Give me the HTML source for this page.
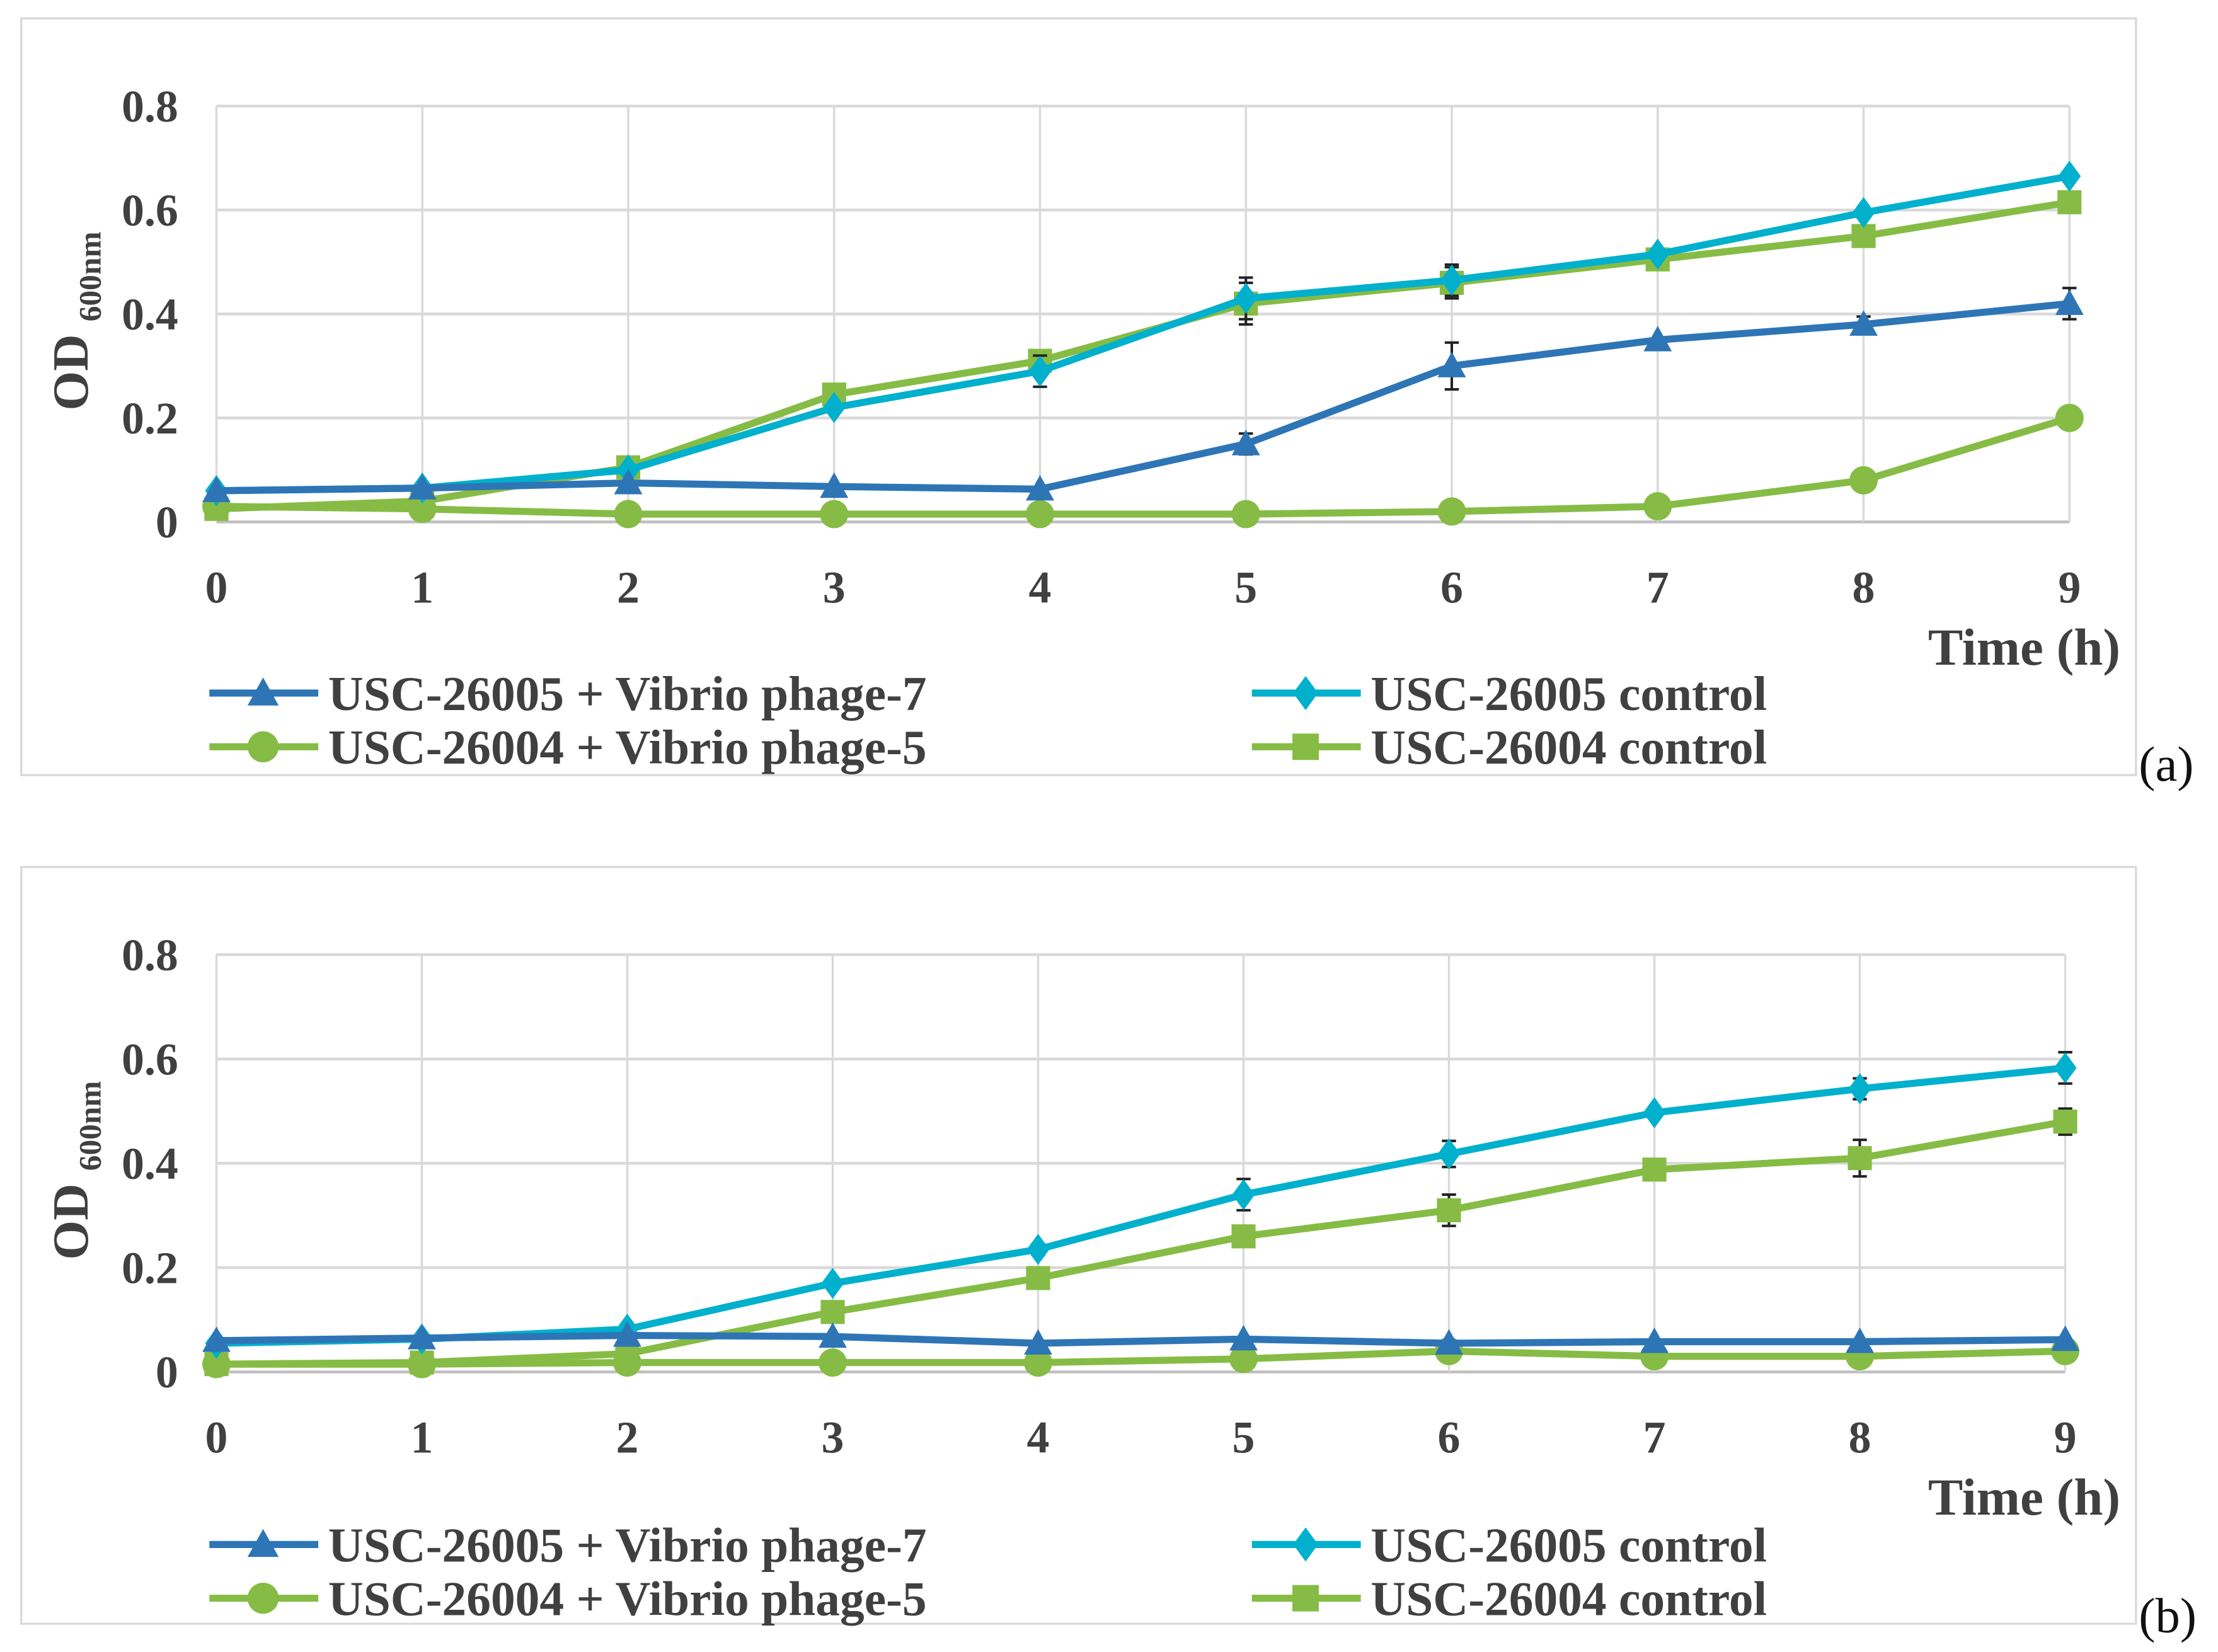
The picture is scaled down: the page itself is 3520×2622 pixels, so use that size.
<!DOCTYPE html>
<html><head><meta charset="utf-8"><style>
html,body{margin:0;padding:0;background:#fff}
svg{display:block}
text{font-family:"Liberation Serif",serif;font-weight:bold;fill:#404040}
</style></head><body>
<svg id="c" width="3520" height="2622" viewBox="0 0 1568 1168" preserveAspectRatio="none" xmlns="http://www.w3.org/2000/svg"></svg>
<script>
const hours=[0,1,2,3,4,5,6,7,8,9];
const yTicks=[0,0.2,0.4,0.6,0.8];
const yTickLabels=["0","0.2","0.4","0.6","0.8"];
const seriesNames=["USC-26005 + Vibrio phage-7","USC-26005 control","USC-26004 + Vibrio phage-5","USC-26004 control"];
const aPhage7=[0.06,0.065,0.075,0.068,0.063,0.15,0.30,0.35,0.38,0.42];
const aCtrl26005=[0.06,0.065,0.10,0.22,0.29,0.43,0.465,0.515,0.595,0.665];
const aPhage5=[0.03,0.025,0.015,0.015,0.015,0.015,0.02,0.03,0.08,0.20];
const aCtrl26004=[0.025,0.04,0.105,0.245,0.31,0.42,0.46,0.505,0.55,0.615];
const aErrPhage7=[0,0,0,0,0,0.02,0.045,0,0.015,0.03];
const aErrCtrl26005=[0,0,0,0,0.03,0.04,0.03,0,0,0];
const aErrPhage5=[0,0,0,0,0,0,0,0,0,0];
const aErrCtrl26004=[0,0,0,0,0.02,0.04,0.03,0,0,0];
const bPhage7=[0.06,0.065,0.07,0.068,0.055,0.063,0.055,0.058,0.058,0.062];
const bCtrl26005=[0.055,0.063,0.082,0.17,0.235,0.34,0.418,0.497,0.543,0.583];
const bPhage5=[0.015,0.015,0.018,0.018,0.018,0.025,0.04,0.03,0.03,0.04];
const bCtrl26004=[0.015,0.018,0.035,0.115,0.18,0.26,0.31,0.388,0.41,0.48];
const bErrPhage7=[0,0,0,0,0,0,0,0,0,0];
const bErrCtrl26005=[0,0,0,0,0.01,0.03,0.025,0,0.02,0.03];
const bErrPhage5=[0,0,0,0,0,0,0,0,0,0];
const bErrCtrl26004=[0,0,0,0,0,0,0.03,0.02,0.035,0.025];

const NS="http://www.w3.org/2000/svg";
const svg=document.getElementById('c');
function mk(tag,attrs,parent){const e=document.createElementNS(NS,tag);for(const k in attrs)e.setAttribute(k,attrs[k]);(parent||svg).appendChild(e);return e;}
const colors=["#2E75B6","#00B0CC","#86BC45","#86BC45"];
const markers=["tri","dia","circ","sq"];
function marker(g,type,x,y,col,s){
  let e;
  if(type==="tri")e=mk('polygon',{points:`${x},${y-s} ${x-s},${y+s*0.8} ${x+s},${y+s*0.8}`,fill:col},g);
  else if(type==="dia")e=mk('polygon',{points:`${x},${y-s*1.1} ${x+s*0.8},${y} ${x},${y+s*1.1} ${x-s*0.8},${y}`,fill:col},g);
  else if(type==="circ")e=mk('circle',{cx:x,cy:y,r:s,fill:col},g);
  else e=mk('rect',{x:x-s*0.85,y:y-s*0.85,width:s*1.7,height:s*1.7,fill:col},g);
  
  
}
function panel(P){
  const g=mk('g',{});
  
  
  const box=mk('rect',{x:15,y:P.boxY,width:1495,height:535,fill:'none',stroke:'#d9d9d9','stroke-width':1.5},g);
  
  
  const X=h=>P.x0+(P.x9-P.x0)*h/9;
  const Y=v=>P.y0+(P.y8-P.y0)*v/0.8;
  yTicks.forEach((t,i)=>{
    const l=mk('line',{x1:X(0),x2:X(9),y1:Y(t),y2:Y(t),stroke:i===0?'#bfbfbf':'#d9d9d9','stroke-width':2},g);
    
    
    const tx=mk('text',{x:126,y:Y(t)+11,'text-anchor':'end','font-size':32},g);tx.textContent=yTickLabels[i];
    
    
  });
  hours.forEach(h=>{
    const l=mk('line',{x1:X(h),x2:X(h),y1:Y(0.8),y2:Y(0),stroke:'#d9d9d9','stroke-width':1.5},g);
    
    
    const tx=mk('text',{x:X(h),y:P.y0+57,'text-anchor':'middle','font-size':32},g);tx.textContent=String(h);
    
    
  });
  const yt=mk('text',{transform:`translate(62,${(Y(0)+Y(0.8))/2+5}) rotate(-90)`,'text-anchor':'middle','font-size':36},g);
  yt.innerHTML='OD <tspan font-size="22" dy="9">600nm</tspan>';
  
  
  const xt=mk('text',{x:1499,y:P.y0+101,'text-anchor':'end','font-size':37},g);xt.textContent='Time (h)';
  
  
  const order=[2,3,1,0];
  order.forEach(si=>{
    const d=P.data[si],err=P.err[si];
    const pts=hours.map((h,i)=>X(h)+','+Y(d[i])).join(' ');
    const pl=mk('polyline',{points:pts,fill:'none',stroke:colors[si],'stroke-width':5,'stroke-linejoin':'round'},g);
    
    
    hours.forEach((h,i)=>{
      if(err[i]>0){
        const eb=mk('path',{d:`M${X(h)},${Y(d[i]-err[i])}V${Y(d[i]+err[i])}M${X(h)-5},${Y(d[i]-err[i])}h10M${X(h)-5},${Y(d[i]+err[i])}h10`,stroke:'#222','stroke-width':1.8,fill:'none'},g);
        
        
      }
      marker(g,markers[si],X(h),Y(d[i]),colors[si],10);
    });
  });
  const leg=[[0,148,P.legY],[1,885,P.legY],[2,148,P.legY+38],[3,885,P.legY+38]];
  leg.forEach(([si,lx,ly])=>{
    const lg=mk('g',{},g);
    
    
    mk('line',{x1:lx,x2:lx+77,y1:ly,y2:ly,stroke:colors[si],'stroke-width':5},lg);
    marker(lg,markers[si],lx+38,ly,colors[si],11);
    const t=mk('text',{x:lx+84,y:ly+12,'font-size':34.5},lg);t.textContent=seriesNames[si];
  });
  const lab=mk('text',{x:1512,y:P.legY+62,'font-size':35,style:'font-weight:normal;fill:#111'},g);
  lab.textContent=P.label;
  
  
}
panel({id:'a',boxY:13,x0:153,x9:1463,y0:369,y8:75,legY:490,label:'(a)',
  data:[aPhage7,aCtrl26005,aPhage5,aCtrl26004],err:[aErrPhage7,aErrCtrl26005,aErrPhage5,aErrCtrl26004]});
panel({id:'b',boxY:613,x0:153,x9:1460,y0:970,y8:675,legY:1092,label:'(b)',
  data:[bPhage7,bCtrl26005,bPhage5,bCtrl26004],err:[bErrPhage7,bErrCtrl26005,bErrPhage5,bErrCtrl26004]});
</script>
</body></html>
